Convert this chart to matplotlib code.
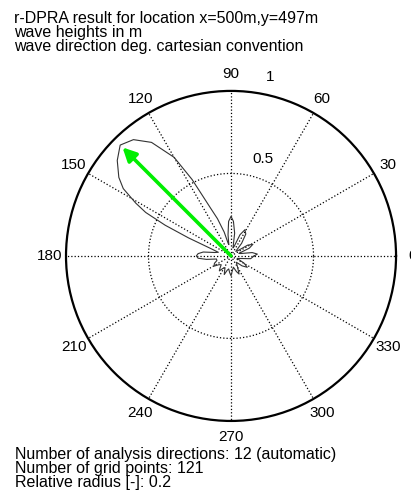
import numpy as np
import matplotlib
matplotlib.use('Agg')
import matplotlib.pyplot as plt

plt.rcParams['font.family'] = 'Liberation Sans'

# directional spectrum (deg, relative)
dir_deg = [0, 4, 9, 14, 18, 23, 28, 33, 38, 44, 50, 56, 62, 67, 72, 76,
           81, 86, 90, 94, 98, 101, 103, 106, 110, 113, 117, 120, 125,
           130, 135, 140, 145, 148, 151, 153, 155, 157, 160, 164, 168, 172,
           176, 180, 184, 188, 192, 198, 204, 211, 216, 222, 228, 232, 237,
           243, 247, 250, 255, 260, 265, 270, 275, 282, 289, 294, 300, 310,
           318, 325, 331, 338, 345, 352, 360]
spec = [0.14, 0.16, 0.13, 0.06, 0.05, 0.12, 0.15, 0.12, 0.05, 0.04, 0.10,
        0.16, 0.18, 0.14, 0.06, 0.05, 0.14, 0.21, 0.24, 0.21, 0.13, 0.07,
        0.08, 0.15, 0.24, 0.31, 0.52, 0.69, 0.84, 0.92, 0.95, 0.90, 0.83,
        0.77, 0.66, 0.58, 0.44, 0.28, 0.13, 0.08, 0.10, 0.17, 0.20, 0.21,
        0.20, 0.15, 0.09, 0.09, 0.11, 0.12, 0.09, 0.08, 0.10, 0.115, 0.09,
        0.08, 0.10, 0.12, 0.09, 0.08, 0.10, 0.12, 0.09, 0.07, 0.10, 0.12,
        0.08, 0.05, 0.09, 0.12, 0.09, 0.04, 0.06, 0.12, 0.14]

mean_dir = 135.0   # deg
mean_len = 0.93

header = ['r-DPRA result for location x=500m,y=497m',
          'wave heights in m',
          'wave direction deg. cartesian convention']
footer = ['Number of analysis directions: 12 (automatic)',
          'Number of grid points: 121',
          'Relative radius [-]: 0.2']

fig = plt.figure(figsize=(4.11, 5.04), dpi=100)
ax = fig.add_axes([0.1606, 0.1647, 0.803, 0.655], projection='polar')
ax.set_ylim(0, 1)
ax.set_xticks([])
ax.set_yticks([])
ax.grid(False)
ax.spines['polar'].set_linewidth(1.6)

# dotted grid like matlab polar
for a in range(0, 360, 30):
    t = np.deg2rad(a)
    ax.plot([t, t], [0, 1], ls=':', color='k', lw=0.9)
    ax.text(t, 1.1, str(a), ha='center', va='center', fontsize=11, clip_on=False)
tt = np.linspace(0, 2 * np.pi, 400)
ax.plot(tt, np.full_like(tt, 0.5), ls=':', color='k', lw=0.9)
ax.text(np.deg2rad(71.7), 0.62, '0.5', ha='center', va='center', fontsize=11)
ax.text(np.deg2rad(77.7), 1.11, '1', ha='center', va='center', fontsize=11, clip_on=False)

ax.plot(np.deg2rad(dir_deg), spec, color='#333333', lw=0.8)

ax.annotate('', xy=(np.deg2rad(mean_dir), mean_len), xytext=(0, 0),
            arrowprops=dict(arrowstyle='-|>', color='#00ee00', lw=2.6,
                            mutation_scale=20, shrinkA=0, shrinkB=0))

for i, s in enumerate(header):
    fig.text(14 / 411, 1 - (18 + 14.5 * i) / 504, s, fontsize=11.5, va='center')
for i, s in enumerate(footer):
    fig.text(15 / 411, 1 - (455 + 13.8 * i) / 504, s, fontsize=11.5, va='center')

fig.savefig('out.png', dpi=100)
